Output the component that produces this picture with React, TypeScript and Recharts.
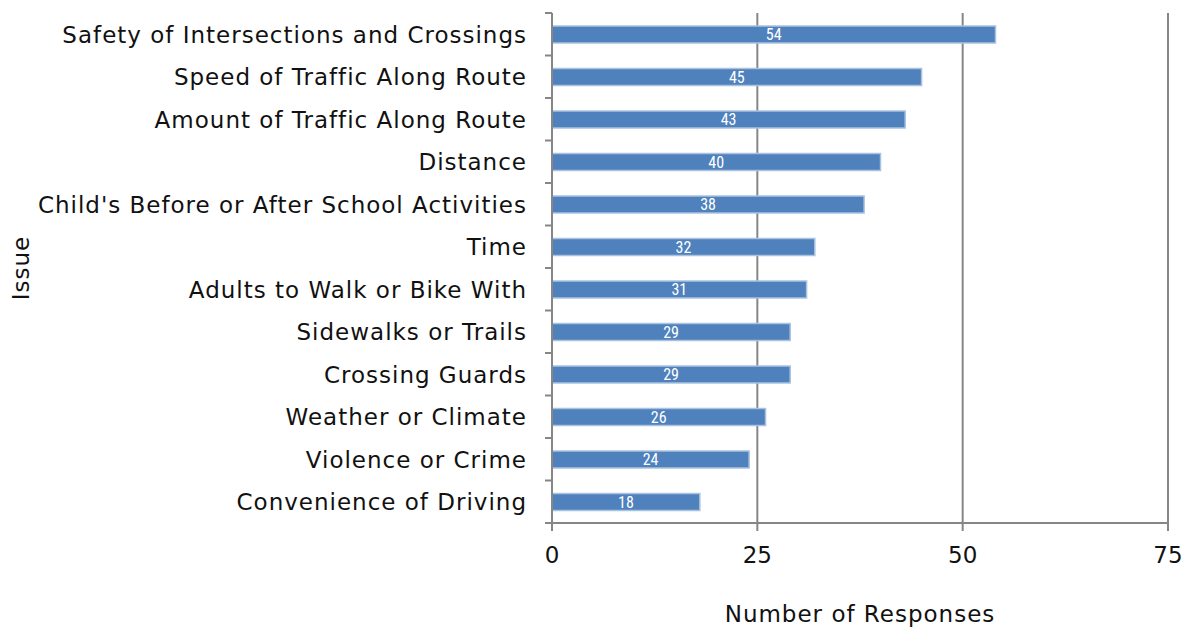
import { BarChart, Bar, XAxis, YAxis, CartesianGrid, LabelList } from "recharts";

const issues = [
  "Safety of Intersections and Crossings",
  "Speed of Traffic Along Route",
  "Amount of Traffic Along Route",
  "Distance",
  "Child's Before or After School Activities",
  "Time",
  "Adults to Walk or Bike With",
  "Sidewalks or Trails",
  "Crossing Guards",
  "Weather or Climate",
  "Violence or Crime",
  "Convenience of Driving",
];

const responses = [54, 45, 43, 40, 38, 32, 31, 29, 29, 26, 24, 18];

const xTicks = [0, 25, 50, 75];

const data = issues.map((issue, i) => ({ issue, count: responses[i] }));

const W = 1188;
const H = 632;
const TOP = 13;
const BOTTOM = 109;
const BAND = (H - TOP - BOTTOM) / issues.length;
const GREY = "#868686";
const FONT = "'DejaVu Sans', sans-serif";
const SPACING = 1;
const SIZE = 23;

function IssueTick(props: any) {
  const { x, y, payload, index } = props;
  return (
    <g>
      <line x1={x - 7} x2={x} y1={y - BAND / 2} y2={y - BAND / 2} stroke={GREY} strokeWidth={2} />
      {index === issues.length - 1 && (
        <line x1={x - 7} x2={x} y1={y + BAND / 2} y2={y + BAND / 2} stroke={GREY} strokeWidth={2} />
      )}
      <text
        x={x - 25}
        y={y}
        dy="0.36em"
        textAnchor="end"
        fill="#111"
        fontSize={SIZE}
        fontFamily={FONT}
        letterSpacing={SPACING}
      >
        {payload.value}
      </text>
    </g>
  );
}

export default function App() {
  return (
    <div style={{ position: "absolute", left: 0, top: 0, background: "#fff" }}>
      <BarChart
        width={W}
        height={H}
        data={data}
        layout="vertical"
        margin={{ top: TOP, right: 20, bottom: 0, left: 0 }}
      >
        <CartesianGrid horizontal={false} stroke={GREY} strokeWidth={2} />
        <XAxis
          type="number"
          domain={[0, 75]}
          ticks={xTicks}
          height={BOTTOM}
          tickSize={8}
          tickMargin={16}
          axisLine={{ stroke: GREY, strokeWidth: 2 }}
          tickLine={{ stroke: GREY, strokeWidth: 2 }}
          tick={{ fill: "#111", fontSize: SIZE, fontFamily: FONT }}
          label={{
            value: "Number of Responses",
            position: "insideBottom",
            offset: 10,
            fill: "#111",
            fontSize: SIZE,
            fontFamily: FONT,
            letterSpacing: SPACING,
          }}
        />
        <YAxis
          type="category"
          dataKey="issue"
          width={552}
          tickSize={0}
          tickMargin={0}
          tickLine={false}
          interval={0}
          axisLine={{ stroke: GREY, strokeWidth: 2 }}
          tick={<IssueTick />}
          label={{
            value: "Issue",
            angle: -90,
            position: "insideLeft",
            offset: 21,
            fill: "#111",
            fontSize: SIZE,
            fontFamily: FONT,
            letterSpacing: SPACING,
            style: { textAnchor: "middle" },
          }}
        />
        <Bar
          dataKey="count"
          fill="#4F81BD"
          stroke="#A9C2E0"
          strokeWidth={1.5}
          barSize={17}
          isAnimationActive={false}
        >
          <LabelList
            dataKey="count"
            position="center"
            fill="#fff"
            fontSize={16}
            fontFamily="'Liberation Sans Narrow', 'Roboto Condensed', sans-serif"
          />
        </Bar>
      </BarChart>
    </div>
  );
}
